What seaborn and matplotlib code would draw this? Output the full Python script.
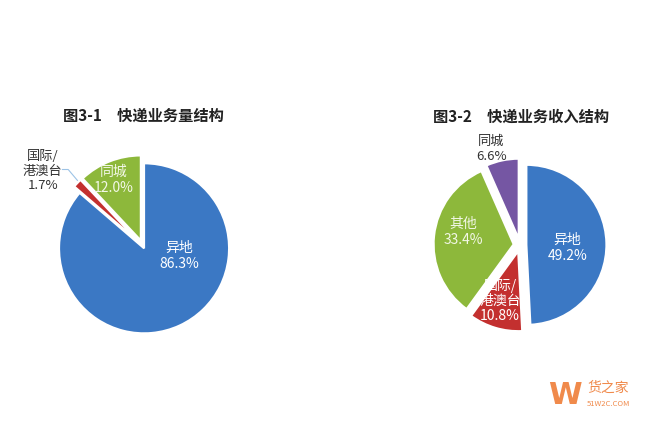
#Express business structure pies: volume vs revenue
import matplotlib
matplotlib.use('Agg')
import matplotlib.pyplot as plt
import seaborn as sns

#data
vol_labels = ['异地', '国际/\n港澳台', '同城']
vol_values = [86.3, 1.7, 12.0]
rev_labels = ['异地', '国际/\n港澳台', '其他', '同城']
rev_values = [49.2, 10.8, 33.4, 6.6]
titles = ['图3-1　快递业务量结构', '图3-2　快递业务收入结构']

sns.set_theme(style='white')
plt.rcParams['font.family'] = ['Noto Sans CJK SC', 'DejaVu Sans']

blue = '#3B78C4'
red = '#C3302F'
green = '#8DB83B'
purple = '#7556A3'

fig = plt.figure(figsize=(6.5, 4.3), dpi=100)
W, H = 650, 430

def pie_axes(cx, cy):
    # axes 200px square centred at pixel (cx, cy)
    ax = fig.add_axes([(cx - 100) / W, (H - cy - 100) / H, 200 / W, 200 / H])
    return ax

def fix_limits(ax, r):
    # radius r px = 1 data unit (pie resets the limits, so set them afterwards)
    lim = 100 / r
    ax.set_xlim(-lim, lim)
    ax.set_ylim(-lim, lim)
    ax.set_aspect('equal')
    ax.axis('off')

#left pie - volume
ax1 = pie_axes(143, 246)
ax1.pie(vol_values, colors=[blue, red, green], startangle=90, counterclock=False,
        explode=[0.03, 0.07, 0.07], radius=1,
        wedgeprops=dict(edgecolor='white', linewidth=1.5))
fix_limits(ax1, 85)
ax1.text(0.43, -0.12, vol_labels[0] + '\n' + f'{vol_values[0]}%', ha='center', va='center',
         color='white', fontsize=10, linespacing=1.2)
ax1.text(-0.34, 0.78, vol_labels[2] + '\n' + f'{vol_values[2]}%', ha='center', va='center',
         color='#F2F7E6', fontsize=10, linespacing=1.2)
ax1.text(-1.18, 0.88, vol_labels[1] + '\n' + f'{vol_values[1]}%', ha='center', va='center',
         color='#333333', fontsize=9.5, linespacing=1.15)
ax1.plot([-0.95, -0.88, -0.77], [0.9, 0.9, 0.77], color='#9DC3E6', lw=0.8, clip_on=False)
fig.text(143 / W, 1 - 116 / H, titles[0], ha='center', va='center',
         fontsize=11, fontweight='bold', color='#222222')

#right pie - revenue
ax2 = pie_axes(520, 245)
ax2.pie(rev_values, colors=[blue, red, green, purple], startangle=90, counterclock=False,
        explode=[0.08, 0.08, 0.08, 0.08], radius=1,
        wedgeprops=dict(edgecolor='white', linewidth=1.5))
fix_limits(ax2, 80)
ax2.text(0.59, -0.04, rev_labels[0] + '\n' + f'{rev_values[0]}%', ha='center', va='center',
         color='white', fontsize=10, linespacing=1.2)
ax2.text(-0.25, -0.70, rev_labels[1] + '\n' + f'{rev_values[1]}%', ha='center', va='center',
         color='white', fontsize=10, linespacing=1.1)
ax2.text(-0.71, 0.16, rev_labels[2] + '\n' + f'{rev_values[2]}%', ha='center', va='center',
         color='#F2F7E6', fontsize=10, linespacing=1.2)
ax2.text(-0.36, 1.2, rev_labels[3] + '\n' + f'{rev_values[3]}%', ha='center', va='center',
         color='#333333', fontsize=9.5, linespacing=1.15)
fig.text(521 / W, 1 - 117 / H, titles[1], ha='center', va='center',
         fontsize=11, fontweight='bold', color='#222222')

#watermark
fig.text(565 / W, 1 - 395 / H, 'W', ha='center', va='center', fontsize=22,
         fontweight='bold', color='#F08A4B', family='DejaVu Sans')
fig.text(608 / W, 1 - 388 / H, '货之家', ha='center', va='center', fontsize=10, color='#F08A4B')
fig.text(608 / W, 1 - 404 / H, '51W2C.COM', ha='center', va='center', fontsize=5.5,
         color='#F08A4B')

fig.savefig('out.png', dpi=100)
